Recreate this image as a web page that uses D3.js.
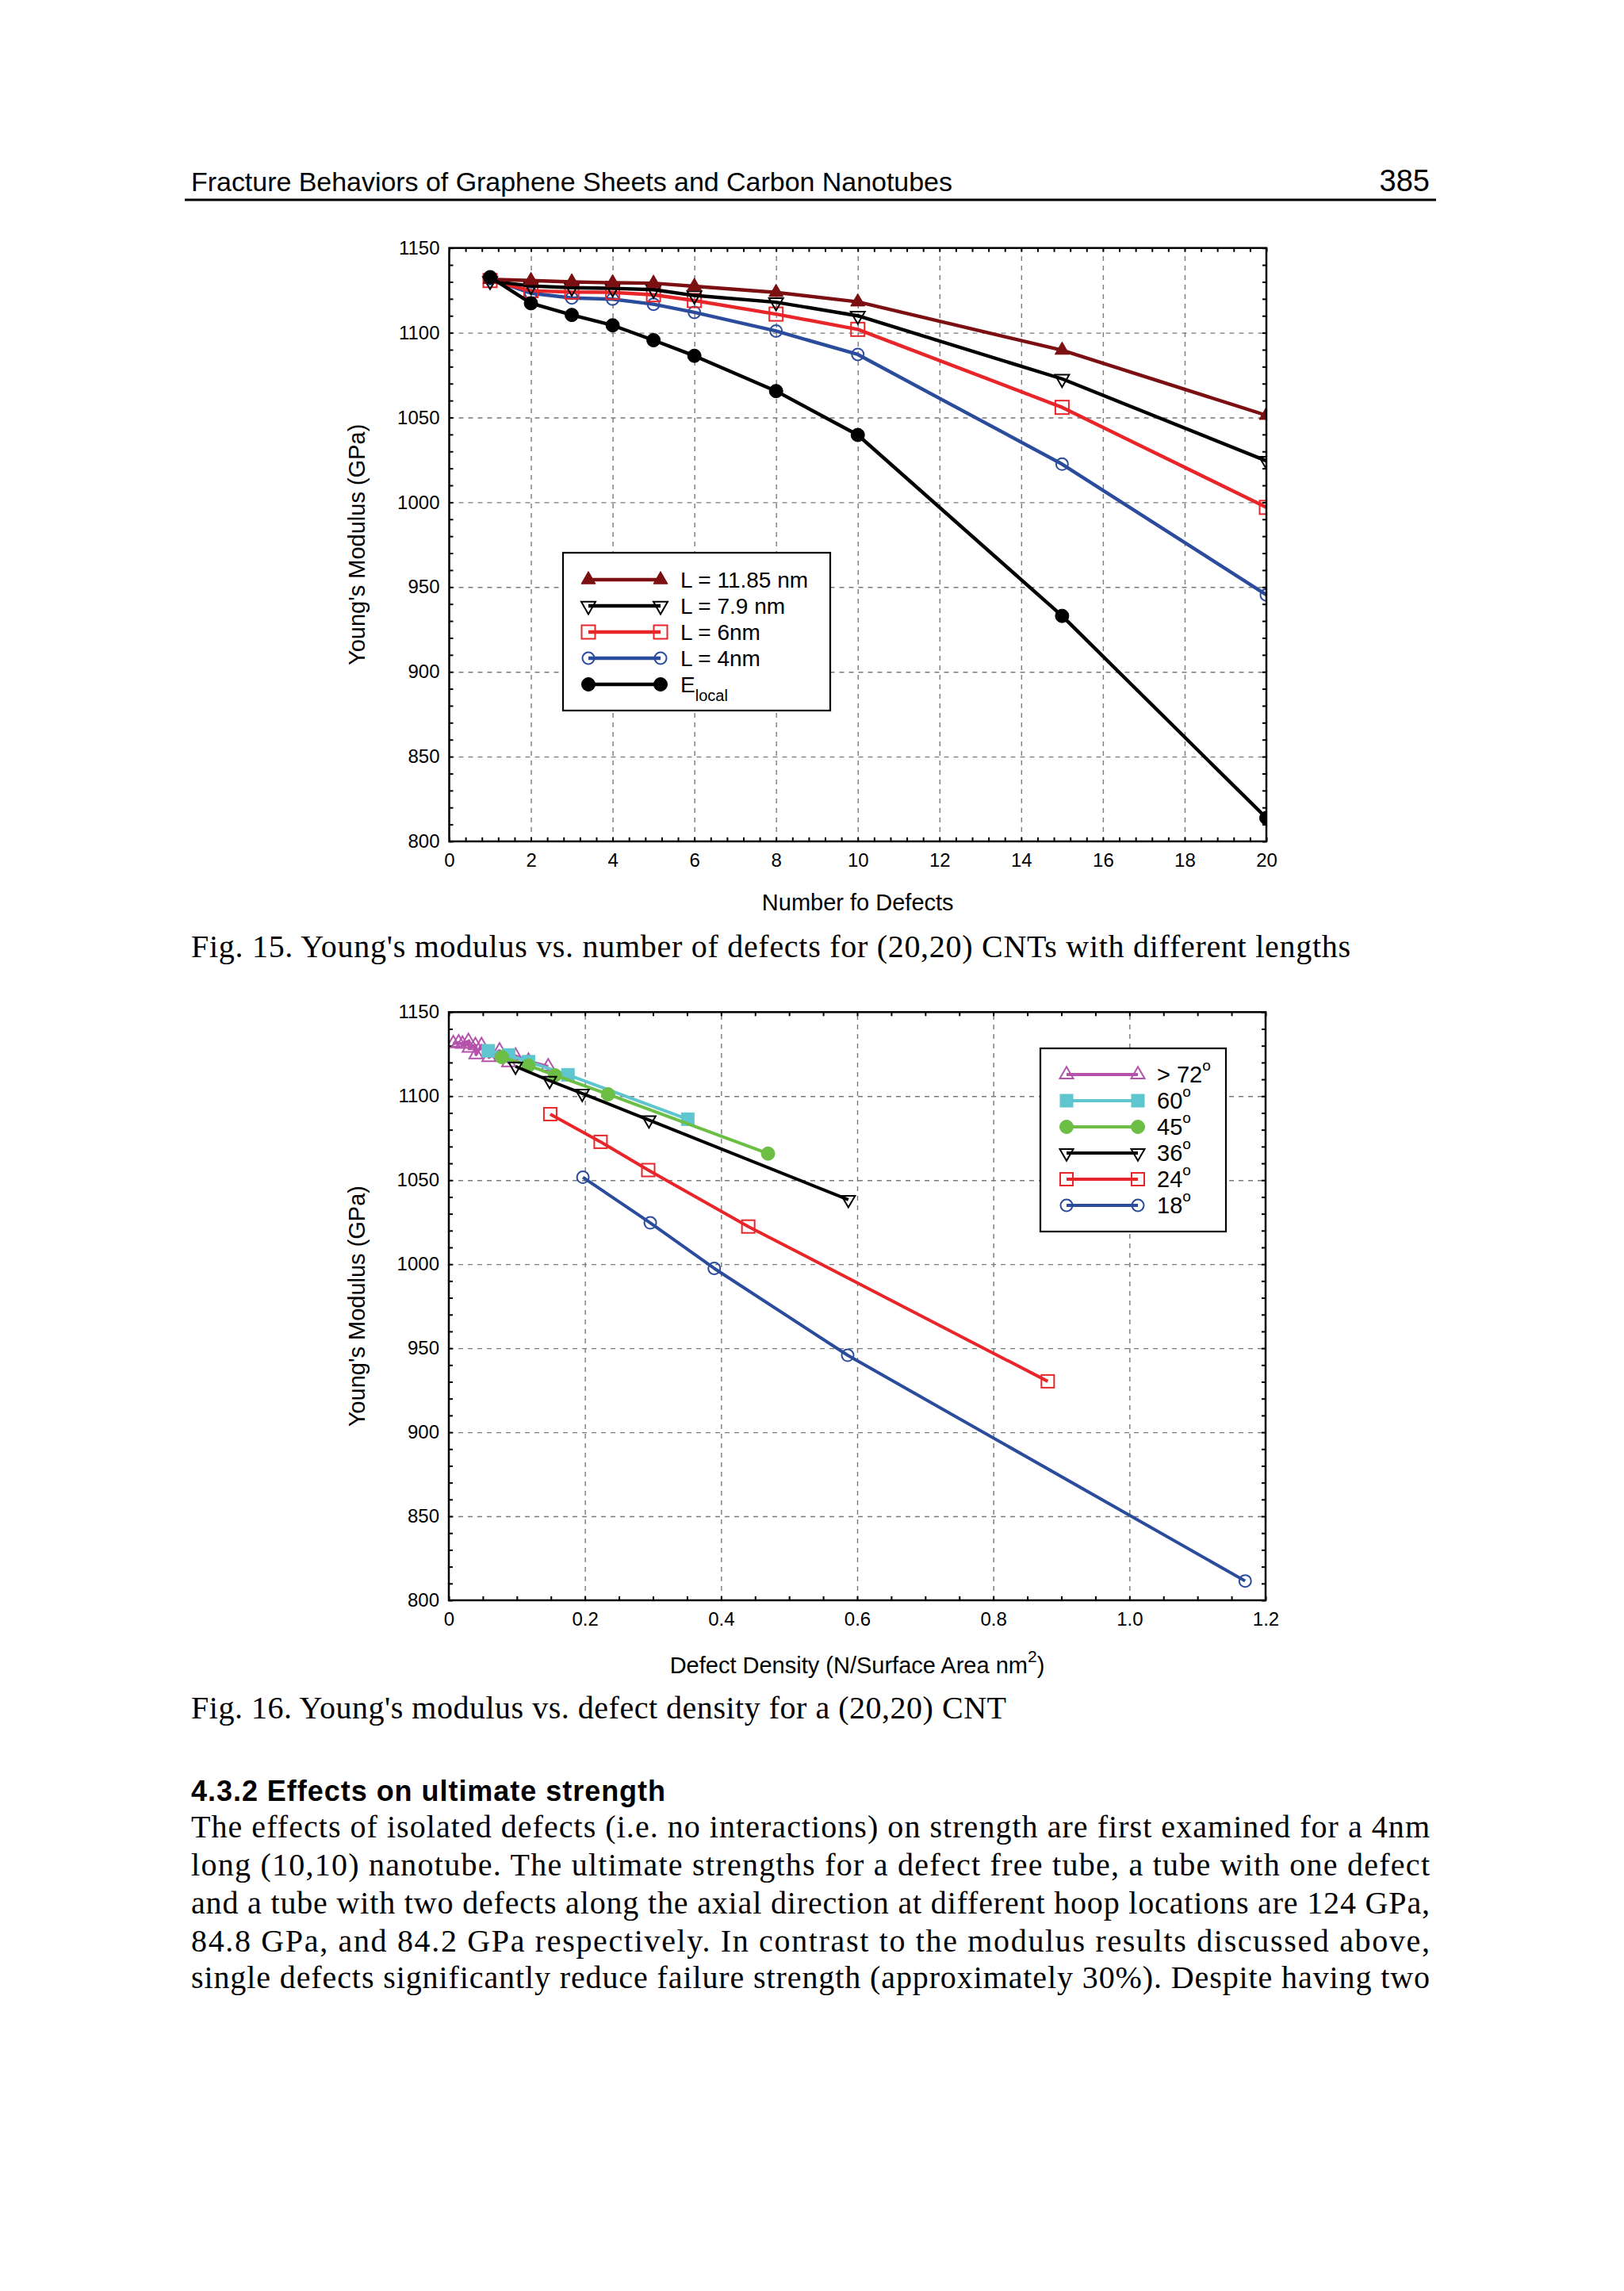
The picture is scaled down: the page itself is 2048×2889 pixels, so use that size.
<!DOCTYPE html>
<html>
<head>
<meta charset="utf-8">
<script src="https://cdn.jsdelivr.net/npm/d3@7"></script>
<style>
  body { margin: 0; background: #fff; }
  svg { display: block; }
</style>
</head>
<body>
<svg id="page" width="2048" height="2889"></svg>
<script>
// Fig. 15 - modulus vs number of defects
const defectCounts = [1, 2, 3, 4, 5, 6, 8, 10, 15, 20]
const modL1185 = [1131.5, 1130.8, 1130.0, 1129.5, 1129.2, 1127.4, 1123.8, 1118.2, 1089.7, 1051.3]
const modL79 = [1130.5, 1127.6, 1126.6, 1126.2, 1125.4, 1122.0, 1118.0, 1110.0, 1072.8, 1024.4]
const modL6 = [1130.8, 1124.8, 1124.0, 1123.8, 1122.4, 1119.0, 1111.0, 1102.0, 1056.0, 997.0]
const modL4 = [1131.8, 1123.3, 1120.5, 1119.8, 1116.8, 1112.0, 1101.0, 1087.2, 1022.5, 945.4]
const modLocal = [1132.8, 1117.4, 1110.5, 1104.4, 1095.6, 1086.4, 1065.6, 1039.7, 933.0, 813.8]
const fig15Labels = ['L = 11.85 nm', 'L = 7.9 nm', 'L = 6nm', 'L = 4nm', 'E']

// Fig. 16 - modulus vs defect density
const dens72 = [0.0066, 0.0144, 0.020, 0.0288, 0.030, 0.039, 0.040, 0.048, 0.059, 0.0745, 0.088, 0.098, 0.117, 0.146]
const mod72 = [1131.3, 1131.8, 1131.0, 1132.6, 1128.6, 1130.2, 1124.7, 1130.2, 1123.1, 1127.0, 1120.0, 1123.9, 1120.8, 1117.6]
const dens60 = [0.058, 0.088, 0.117, 0.175, 0.351]
const mod60 = [1127.0, 1124.5, 1120.5, 1112.7, 1086.3]
const dens45 = [0.078, 0.117, 0.156, 0.234, 0.469]
const mod45 = [1123.2, 1118.2, 1112.4, 1101.1, 1065.8]
const dens36 = [0.098, 0.148, 0.196, 0.294, 0.587]
const mod36 = [1117.7, 1109.2, 1101.6, 1085.8, 1038.4]
const dens24 = [0.149, 0.223, 0.293, 0.440, 0.880]
const mod24 = [1089.3, 1072.8, 1056.0, 1022.4, 930.3]
const dens18 = [0.197, 0.296, 0.390, 0.586, 1.170]
const mod18 = [1051.7, 1024.6, 997.5, 945.8, 811.5]
const fig16Labels = ['> 72', '60', '45', '36', '24', '18']

const modulusTicks = [800, 850, 900, 950, 1000, 1050, 1100, 1150]
const defectTicks = [0, 2, 4, 6, 8, 10, 12, 14, 16, 18, 20]
const densityTicks = [0, 0.2, 0.4, 0.6, 0.8, 1.0, 1.2]

const sans = "'Liberation Sans', Arial, Helvetica, sans-serif"
const serif = "'Liberation Serif', 'Times New Roman', serif"

const svg = d3.select('#page')
svg.append('rect').attr('width', 2048).attr('height', 2889).attr('fill', '#fff')

const zip = (xs, ys) => xs.map((v, i) => [v, ys[i]])

const drawMarker = (sel, shape, color, filled, size) => {
  let m
  if (shape === 'circle') {
    m = sel.append('circle').attr('r', size / 2)
  } else if (shape === 'square') {
    m = sel.append('rect').attr('x', -size / 2).attr('y', -size / 2).attr('width', size).attr('height', size)
  } else {
    m = sel
      .append('path')
      .attr('d', d3.symbol(d3.symbolTriangle, size * size * 0.433)())
      .attr('transform', shape === 'down' ? 'rotate(180)' : null)
  }
  m.attr('fill', filled ? color : 'none')
    .attr('stroke', color)
    .attr('stroke-width', filled ? 1 : 2)
}

let clipId = 0

const drawChart = ({ box, xDomain, xTicks, xMinor, xFormat, series, legendOrder, xTitle, lineWidth, legend }) => {
  const x = d3.scaleLinear().domain(xDomain).range([box.left, box.right])
  const y = d3.scaleLinear().domain([800, 1150]).range([box.bottom, box.top])
  const w = box.right - box.left
  const h = box.bottom - box.top
  const g = svg.append('g')

  // dashed grid
  const grid = g.append('g')
  grid
    .append('g')
    .attr('transform', `translate(0,${box.bottom})`)
    .call(d3.axisBottom(x).tickValues(xTicks.slice(1, -1)).tickSize(-h).tickFormat(''))
  grid
    .append('g')
    .attr('transform', `translate(${box.left},0)`)
    .call(d3.axisLeft(y).tickValues(modulusTicks.slice(1, -1)).tickSize(-w).tickFormat(''))
  grid.selectAll('.domain').remove()
  grid
    .selectAll('line')
    .attr('stroke', '#7a7a7a')
    .attr('stroke-width', 1.4)
    .attr('stroke-dasharray', '6,6')

  // small inward ticks on all four sides
  const yMinor = d3.range(800, 1151, 10)
  const ticks = g.append('g')
  ticks.append('g').attr('transform', `translate(0,${box.bottom})`)
    .call(d3.axisBottom(x).tickValues(xMinor).tickSize(-5).tickFormat(''))
  ticks.append('g').attr('transform', `translate(0,${box.top})`)
    .call(d3.axisTop(x).tickValues(xMinor).tickSize(-5).tickFormat(''))
  ticks.append('g').attr('transform', `translate(${box.left},0)`)
    .call(d3.axisLeft(y).tickValues(yMinor).tickSize(-5).tickFormat(''))
  ticks.append('g').attr('transform', `translate(${box.right},0)`)
    .call(d3.axisRight(y).tickValues(yMinor).tickSize(-5).tickFormat(''))
  ticks.selectAll('.domain').remove()
  ticks.selectAll('line').attr('stroke', '#000').attr('stroke-width', 2)

  // tick labels
  const xAxis = g
    .append('g')
    .attr('transform', `translate(0,${box.bottom})`)
    .call(d3.axisBottom(x).tickValues(xTicks).tickSize(0).tickPadding(15).tickFormat(xFormat))
  const yAxis = g
    .append('g')
    .attr('transform', `translate(${box.left},0)`)
    .call(d3.axisLeft(y).tickValues(modulusTicks).tickSize(0).tickPadding(12).tickFormat(d3.format('d')))
  ;[xAxis, yAxis].forEach(a => {
    a.select('.domain').remove()
    a.selectAll('text').attr('font-family', sans).attr('font-size', 24).attr('fill', '#000')
  })

  // series
  const id = `clip${clipId++}`
  g.append('clipPath').attr('id', id)
    .append('rect').attr('x', box.left).attr('y', box.top).attr('width', w).attr('height', h)
  const plot = g.append('g').attr('clip-path', `url(#${id})`)
  const line = d3.line().x(d => x(d[0])).y(d => y(d[1]))
  series.forEach(s => {
    const pts = zip(s.xs, s.ys)
    plot.append('path')
      .attr('d', line(pts))
      .attr('fill', 'none')
      .attr('stroke', s.color)
      .attr('stroke-width', lineWidth)
      .attr('stroke-linejoin', 'round')
    plot.selectAll(null)
      .data(pts)
      .enter()
      .append('g')
      .attr('transform', d => `translate(${x(d[0])},${y(d[1])})`)
      .each(function () {
        drawMarker(d3.select(this), s.shape, s.color, s.filled, s.size)
      })
  })

  g.append('rect')
    .attr('x', box.left).attr('y', box.top).attr('width', w).attr('height', h)
    .attr('fill', 'none').attr('stroke', '#000').attr('stroke-width', 2.5)

  // axis titles
  const xt = g.append('text')
    .attr('x', (box.left + box.right) / 2)
    .attr('y', box.bottom + xTitle.dy)
    .attr('text-anchor', 'middle')
    .attr('font-family', sans).attr('font-size', 29)
    .text(xTitle.text)
  if (xTitle.sup) {
    xt.append('tspan').attr('font-size', 21).attr('dy', -14).text(xTitle.sup)
    xt.append('tspan').attr('dy', 14).text(')')
  }
  g.append('text')
    .attr('transform', `translate(450,${(box.top + box.bottom) / 2}) rotate(-90)`)
    .attr('text-anchor', 'middle')
    .attr('dy', '0.35em')
    .attr('font-family', sans).attr('font-size', 29)
    .text("Young's Modulus (GPa)")

  // legend
  const lg = g.append('g')
  lg.append('rect')
    .attr('x', legend.x).attr('y', legend.y).attr('width', legend.w).attr('height', legend.h)
    .attr('fill', '#fff').attr('stroke', '#000').attr('stroke-width', 2.2)
  legendOrder.forEach((k, i) => {
    const s = series[k]
    const yy = legend.row0 + i * legend.step
    lg.append('line')
      .attr('x1', legend.x1).attr('x2', legend.x2).attr('y1', yy).attr('y2', yy)
      .attr('stroke', s.color).attr('stroke-width', lineWidth)
    ;[legend.x1, legend.x2].forEach(px => {
      drawMarker(lg.append('g').attr('transform', `translate(${px},${yy})`), s.shape, s.color, s.filled, s.size)
    })
    const t = lg.append('text')
      .attr('x', legend.tx).attr('y', yy + legend.fs * 0.36)
      .attr('font-family', sans).attr('font-size', legend.fs)
      .text(s.label)
    if (s.sub) t.append('tspan').attr('font-size', 20).attr('dy', 11).text(s.sub)
    if (s.sup) t.append('tspan').attr('font-size', 19).attr('dy', -15).text(s.sup)
  })
}

drawChart({
  box: { left: 566.5, right: 1597, top: 312.7, bottom: 1061 },
  xDomain: [0, 20],
  xTicks: defectTicks,
  xMinor: d3.range(0, 20.01, 0.4),
  xFormat: d3.format('d'),
  lineWidth: 4.4,
  xTitle: { text: 'Number fo Defects', dy: 87 },
  series: [
    { xs: defectCounts, ys: modL4, color: '#2b4c9c', shape: 'circle', filled: false, size: 15, label: fig15Labels[3] },
    { xs: defectCounts, ys: modL6, color: '#e8262a', shape: 'square', filled: false, size: 17, label: fig15Labels[2] },
    { xs: defectCounts, ys: modL79, color: '#000', shape: 'down', filled: false, size: 18, label: fig15Labels[1] },
    { xs: defectCounts, ys: modL1185, color: '#7b0f12', shape: 'up', filled: true, size: 18, label: fig15Labels[0] },
    { xs: defectCounts, ys: modLocal, color: '#000', shape: 'circle', filled: true, size: 17, label: fig15Labels[4], sub: 'local' }
  ],
  legendOrder: [3, 2, 1, 0, 4],
  legend: { x: 710, y: 697, w: 337, h: 199, row0: 731, step: 33, x1: 742, x2: 833, tx: 858, fs: 28 }
})

drawChart({
  box: { left: 566, right: 1596, top: 1276.3, bottom: 2018 },
  xDomain: [0, 1.2],
  xTicks: densityTicks,
  xMinor: d3.range(0, 1.2001, 0.05),
  xFormat: d => (d === 0 ? '0' : d3.format('.1f')(d)),
  lineWidth: 4,
  xTitle: { text: 'Defect Density (N/Surface Area nm', sup: '2', dy: 92 },
  series: [
    { xs: dens72, ys: mod72, color: '#b453ab', shape: 'up', filled: false, size: 17, label: fig16Labels[0], sup: 'o' },
    { xs: dens60, ys: mod60, color: '#5fc6d0', shape: 'square', filled: true, size: 16, label: fig16Labels[1], sup: 'o' },
    { xs: dens45, ys: mod45, color: '#6cbe45', shape: 'circle', filled: true, size: 17, label: fig16Labels[2], sup: 'o' },
    { xs: dens36, ys: mod36, color: '#000', shape: 'down', filled: false, size: 17, label: fig16Labels[3], sup: 'o' },
    { xs: dens24, ys: mod24, color: '#e8262a', shape: 'square', filled: false, size: 16, label: fig16Labels[4], sup: 'o' },
    { xs: dens18, ys: mod18, color: '#2b4c9c', shape: 'circle', filled: false, size: 15, label: fig16Labels[5], sup: 'o' }
  ],
  legendOrder: [0, 1, 2, 3, 4, 5],
  legend: { x: 1312, y: 1322, w: 234, h: 231, row0: 1355, step: 33, x1: 1345, x2: 1435, tx: 1459, fs: 29 }
})
</script>
<script>
// page text around the figures, stretched to the widths of the printed page
const fit = (sel, width) => sel.attr('textLength', width).attr('lengthAdjust', 'spacing')

const page = d3.select('#page').append('g')

fit(page.append('text')
  .attr('x', 241).attr('y', 241)
  .attr('font-family', sans).attr('font-size', 34)
  .text('Fracture Behaviors of Graphene Sheets and Carbon Nanotubes'), 960)
page.append('text')
  .attr('x', 1803).attr('y', 241).attr('text-anchor', 'end')
  .attr('font-family', sans).attr('font-size', 38)
  .text('385')
page.append('line')
  .attr('x1', 233).attr('x2', 1811).attr('y1', 252).attr('y2', 252)
  .attr('stroke', '#000').attr('stroke-width', 3)

fit(page.append('text')
  .attr('x', 241).attr('y', 1207)
  .attr('font-family', serif).attr('font-size', 40)
  .text("Fig. 15. Young's modulus vs. number of defects for (20,20) CNTs with different lengths"), 1462)

fit(page.append('text')
  .attr('x', 241).attr('y', 2167)
  .attr('font-family', serif).attr('font-size', 40)
  .text("Fig. 16. Young's modulus vs. defect density for a (20,20) CNT"), 1028)

fit(page.append('text')
  .attr('x', 241).attr('y', 2271)
  .attr('font-family', sans).attr('font-size', 36).attr('font-weight', 'bold')
  .text('4.3.2 Effects on ultimate strength'), 598)

const bodyLines = [
  'The effects of isolated defects (i.e. no interactions) on strength are first examined for a 4nm',
  'long (10,10) nanotube. The ultimate strengths for a defect free tube, a tube with one defect',
  'and a tube with two defects along the axial direction at different hoop locations are 124 GPa,',
  '84.8 GPa, and 84.2 GPa respectively. In contrast to the modulus results discussed above,',
  'single defects significantly reduce failure strength (approximately 30%). Despite having two'
]
const bodyBaselines = [2317, 2365, 2413, 2461, 2507]
bodyLines.forEach((txt, i) => {
  fit(page.append('text')
    .attr('x', 241).attr('y', bodyBaselines[i])
    .attr('font-family', serif).attr('font-size', 40)
    .text(txt), 1562)
})
</script>
</body>
</html>
